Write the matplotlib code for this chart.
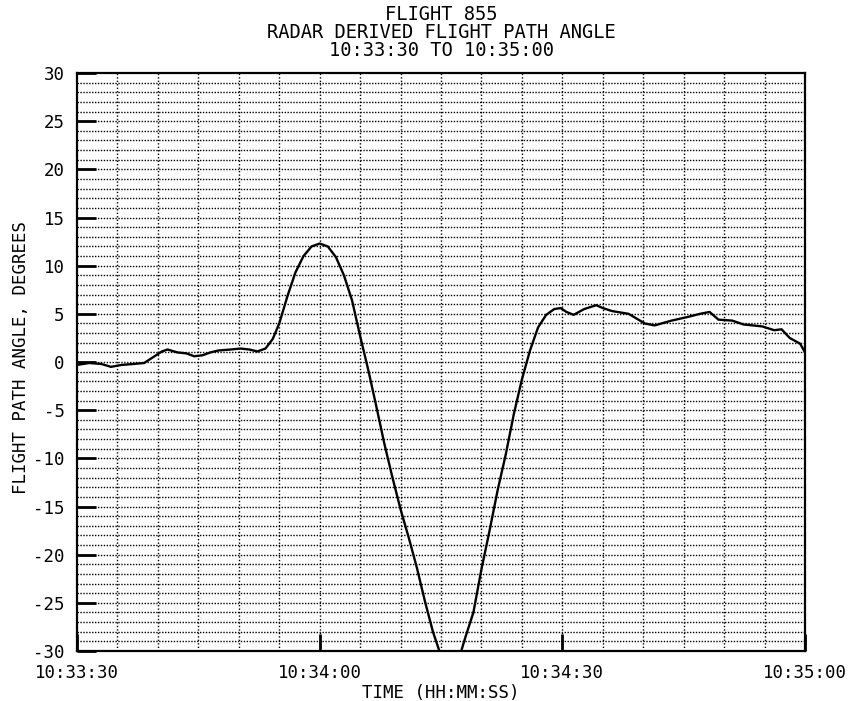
import numpy as np
import matplotlib
matplotlib.use('Agg')
import matplotlib.pyplot as plt

# seconds after 10:33:30
time_s = [0, 1.5, 3, 4.2, 5.5, 7, 8.3, 9.4, 10.5, 11.2, 12.4, 13.5, 14.5, 15.5,
          16.5, 17.5, 19, 20.2, 21.3, 22.3, 23.3, 24.2, 25.0, 26.0, 27.0, 28.0,
          29.0, 30.0, 31.0, 32.0, 33.0, 34.0, 35.0, 36.0, 37.0, 38.0, 39.0,
          40.0, 41.0, 42.0, 43.0, 44.0, 44.8, 46.0, 47.5, 48.0, 49.0, 50.0,
          51.0, 52.0, 53.0, 54.0, 55.0, 56.0, 57.0, 58.0, 59.0, 59.8, 60.5,
          61.4, 62.7, 64.2, 65.0, 66.1, 68.2, 70.2, 71.4, 73.5, 75.6, 77.0,
          78.2, 79.3, 81.0, 82.4, 84.7, 86.2, 87.1, 88.1, 89.4, 90.0]
angle_deg = [-0.3, -0.1, -0.2, -0.5, -0.3, -0.2, -0.1, 0.5, 1.1, 1.3, 1.0, 0.9,
             0.6, 0.7, 1.0, 1.2, 1.3, 1.4, 1.3, 1.1, 1.4, 2.4, 4.0, 6.8, 9.3,
             11.0, 12.0, 12.3, 12.0, 10.9, 9.0, 6.4, 2.7, -0.8, -4.6, -8.5,
             -12.0, -15.3, -18.2, -21.3, -24.8, -28.0, -30.0, -31.0, -30.0,
             -28.6, -26.0, -21.5, -17.5, -13.3, -9.6, -5.4, -1.8, 1.2, 3.6,
             4.9, 5.5, 5.6, 5.2, 4.9, 5.5, 5.9, 5.6, 5.3, 5.0, 4.0, 3.8, 4.3,
             4.7, 5.0, 5.2, 4.4, 4.3, 3.9, 3.7, 3.3, 3.4, 2.5, 1.9, 1.0]

x_ticks = [0, 30, 60, 90]
x_tick_labels = ["10:33:30", "10:34:00", "10:34:30", "10:35:00"]
y_ticks = [30, 25, 20, 15, 10, 5, 0, -5, -10, -15, -20, -25, -30]
title_lines = ["FLIGHT 855", "RADAR DERIVED FLIGHT PATH ANGLE", "10:33:30 TO 10:35:00"]

plt.rcParams['font.family'] = ['DejaVu Sans Mono']
plt.rcParams['axes.unicode_minus'] = False
font_size = 12.5

fig = plt.figure(figsize=(8.5, 7.01), dpi=100)
ax = fig.add_axes([0.0906, 0.0713, 0.8565, 0.8245])

# dotted chart-paper grid
for t in np.arange(5, 90, 5):
    ax.axvline(t, color='black', lw=1.0, ls=(0, (1, 1.5)), zorder=1)
for a in np.arange(-29, 30, 1):
    ax.axhline(a, color='black', lw=1.0, ls=(0, (1, 1.1)), zorder=1)

ax.plot(time_s, angle_deg, color='black', lw=1.7, zorder=3)

ax.set_xlim(0, 90)
ax.set_ylim(-30, 30)
ax.set_xticks(x_ticks)
ax.set_xticklabels(x_tick_labels)
ax.set_yticks(y_ticks)
ax.tick_params(direction='in', length=14, width=2, labelsize=font_size, pad=9)
ax.tick_params(axis='x', top=False, length=12, pad=9)
for s in ax.spines.values():
    s.set_linewidth(1.6)

ax.set_xlabel("TIME (HH:MM:SS)", fontsize=font_size, labelpad=2)
fig.text(0.025, 0.49, "FLIGHT PATH ANGLE, DEGREES", rotation=90,
         ha='center', va='center', fontsize=font_size)

for line, y in zip(title_lines, [14, 32, 51]):
    fig.text(0.519, 1 - y / 701.0, line, ha='center', va='center', fontsize=13.5)

fig.savefig("out.png", dpi=100)
